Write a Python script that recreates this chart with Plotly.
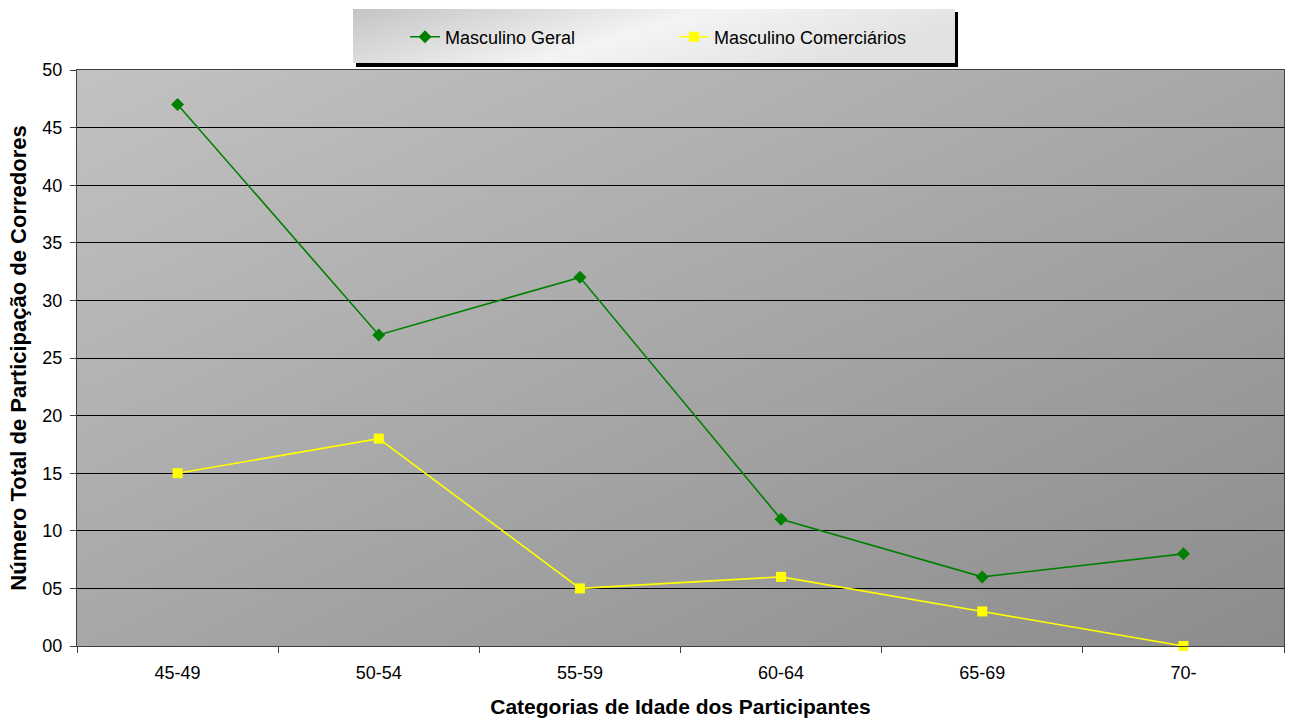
import base64
import plotly.graph_objects as go

categories = ["45-49", "50-54", "55-59", "60-64", "65-69", "70-"]
geral = [47, 27, 32, 11, 6, 8]
comerciarios = [15, 18, 5, 6, 3, 0]
y_ticks = [0, 5, 10, 15, 20, 25, 30, 35, 40, 45, 50]
y_ticktext = ["00", "05", "10", "15", "20", "25", "30", "35", "40", "45", "50"]

W, H = 1290, 718
L, R, T, B = 77, 1284, 70, 646
pw, ph = R - L, B - T


def svg_uri(svg):
    return "data:image/svg+xml;base64," + base64.b64encode(svg.encode()).decode()


bg_svg = f'''<svg xmlns="http://www.w3.org/2000/svg" width="{pw}" height="{ph}" viewBox="0 0 {pw} {ph}" preserveAspectRatio="none">
<defs><linearGradient id="g" x1="0" y1="0" x2="1" y2="1">
<stop offset="0" stop-color="#c2c2c2"/><stop offset="1" stop-color="#8c8c8c"/></linearGradient></defs>
<rect x="0" y="0" width="{pw}" height="{ph}" fill="url(#g)"/></svg>'''

lx0, ly0, lx1, ly1 = 353, 9, 958, 67
lw, lh = lx1 - lx0, ly1 - ly0
leg_svg = f'''<svg xmlns="http://www.w3.org/2000/svg" width="{lw}" height="{lh}" viewBox="0 0 {lw} {lh}" preserveAspectRatio="none">
<defs><linearGradient id="lg" x1="0" y1="0" x2="1" y2="0.3">
<stop offset="0" stop-color="#c4c4c4"/><stop offset="0.55" stop-color="#f4f4f4"/><stop offset="1" stop-color="#e2e2e2"/></linearGradient></defs>
<rect x="3" y="3" width="{lw-3}" height="{lh-3}" fill="#000000"/>
<rect x="0" y="0" width="{lw-3}" height="{lh-4}" fill="url(#lg)"/></svg>'''

fig = go.Figure()
fig.add_trace(go.Scatter(
    x=categories, y=geral, name="Masculino Geral", mode="lines+markers",
    line=dict(color="#008000", width=1.6),
    marker=dict(symbol="diamond", size=10, color="#008000"),
    cliponaxis=False,
))
fig.add_trace(go.Scatter(
    x=categories, y=comerciarios, name="Masculino Comerciários", mode="lines+markers",
    line=dict(color="#ffff00", width=1.6),
    marker=dict(symbol="square", size=10, color="#ffff00"),
    cliponaxis=False,
))

fig.update_layout(
    width=W, height=H, autosize=False,
    margin=dict(l=L, r=W - R, t=T, b=H - B, pad=0, autoexpand=False),
    paper_bgcolor="white",
    plot_bgcolor="rgba(0,0,0,0)",
    font=dict(family="Liberation Sans, Arial, sans-serif", color="black", size=17),
    showlegend=True,
    legend=dict(
        orientation="h", x=(405 - L) / pw, xanchor="left",
        y=(B - 37) / ph, yanchor="middle",
        bgcolor="rgba(0,0,0,0)", borderwidth=0,
        font=dict(size=18), entrywidth=224, entrywidthmode="pixels",
    ),
    images=[
        dict(source=svg_uri(bg_svg), xref="paper", yref="paper", x=0, y=1,
             sizex=1, sizey=1, xanchor="left", yanchor="top",
             sizing="stretch", layer="below"),
        dict(source=svg_uri(leg_svg), xref="paper", yref="paper",
             x=(lx0 - L) / pw, y=(B - ly0) / ph, sizex=lw / pw, sizey=lh / ph,
             xanchor="left", yanchor="top", sizing="stretch", layer="above"),
    ],
    xaxis=dict(
        type="category", range=[-0.5, 5.5], automargin=False,
        showgrid=False, showline=True, linecolor="#404040", linewidth=1,
        mirror=True,
        ticks="outside", tickson="boundaries", ticklen=6, tickcolor="#404040",
        tickfont=dict(size=18), ticklabelstandoff=10,
        title=dict(text="<b>Categorias de Idade dos Participantes</b>",
                   font=dict(size=21), standoff=18),
    ),
    yaxis=dict(
        range=[0, 50], tickvals=y_ticks, ticktext=y_ticktext, automargin=False,
        showgrid=True, gridcolor="#000000", gridwidth=1,
        zeroline=False, showline=True, linecolor="#404040", linewidth=1,
        mirror=True,
        ticks="outside", ticklen=6, tickcolor="#404040",
        tickfont=dict(size=18), ticklabelstandoff=4,
        title=dict(text="<b>Número Total de Participação de Corredores</b>",
                   font=dict(size=22), standoff=9),
    ),
)

fig.write_html(
    "out.html",
    config={"displayModeBar": False},
    post_script="document.body.style.margin='0px';document.body.style.padding='0px';",
)
